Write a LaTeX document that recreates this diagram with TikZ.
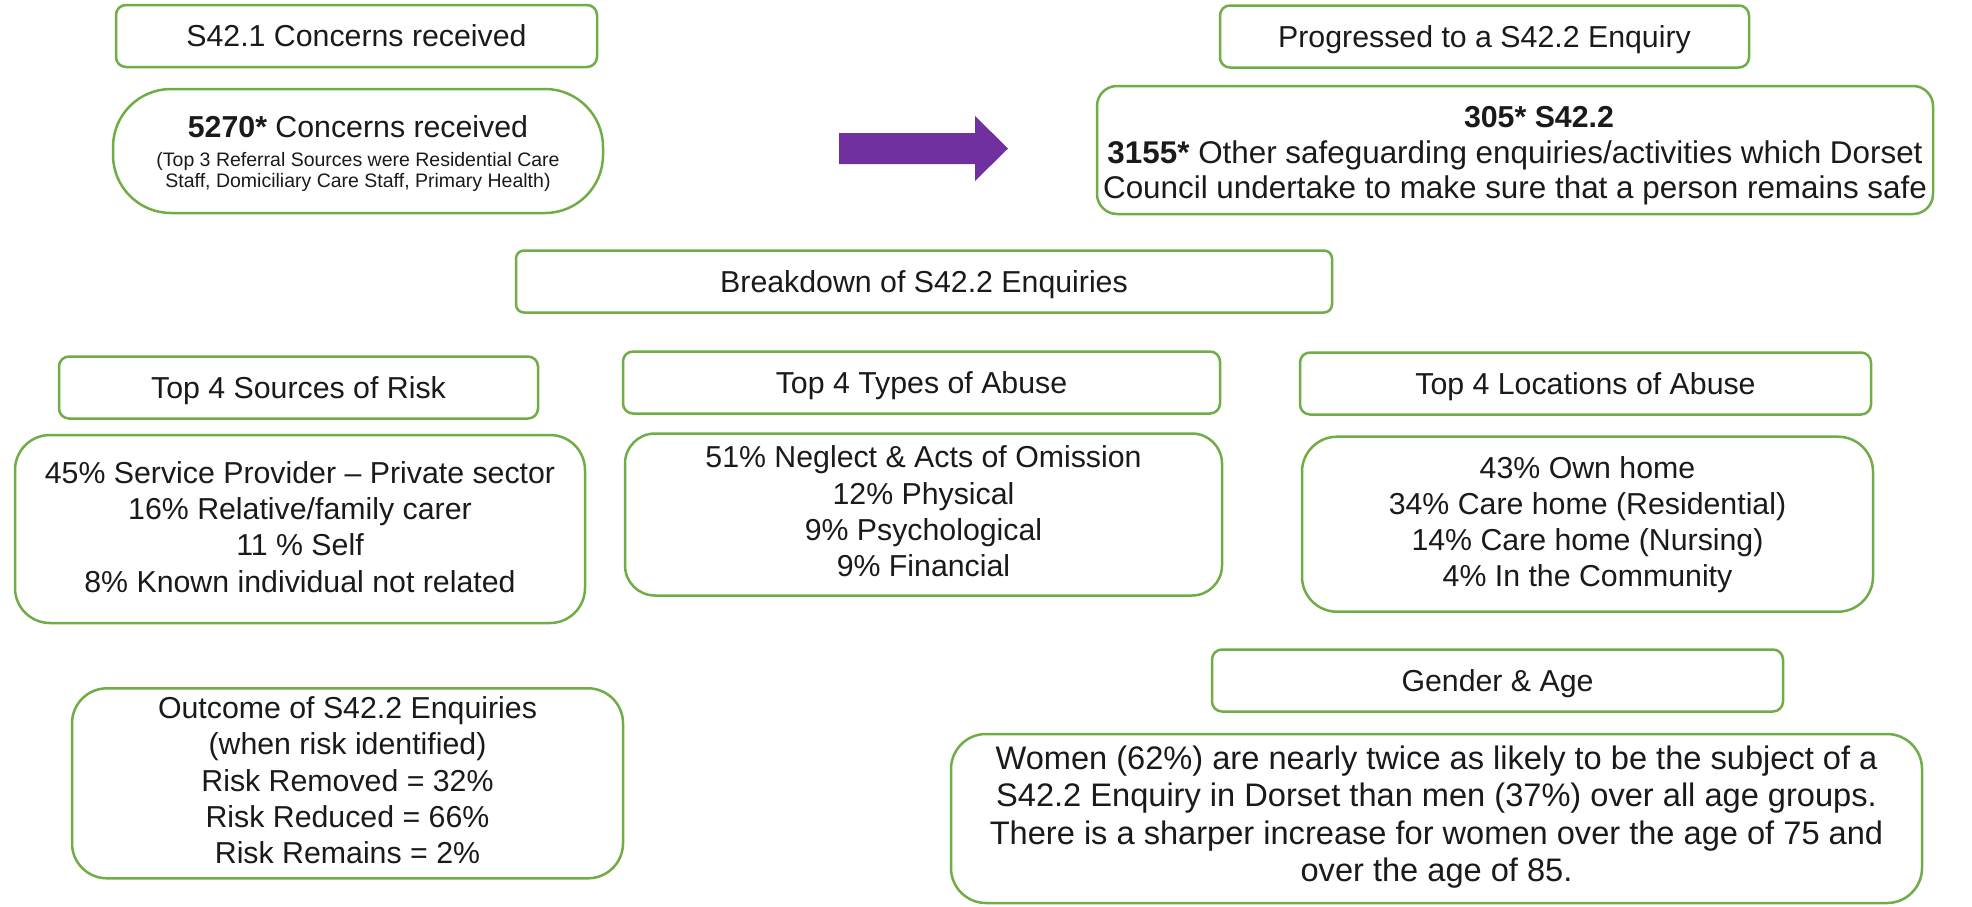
\documentclass[tikz,border=0pt]{standalone}
\usepackage{fontspec}
\setmainfont{Liberation Sans}
\definecolor{boxgreen}{HTML}{70AD47}
\definecolor{arrowpurple}{HTML}{7030A0}
\definecolor{txt}{HTML}{1A1A1A}
\newcommand{\smallfnt}{\fontsize{19.5}{21.7}\selectfont}
\newcommand{\topstrut}{\rule{0pt}{0.905em}}
\newcommand{\botstrut}{\rule[-0.212em]{0pt}{0.212em}}
\newcommand{\hgt}[1]{\rule{0pt}{#1}}
\newcommand{\dpt}[1]{\rule[-#1]{0pt}{0pt}}
\tikzset{
  gbox/.style={draw=boxgreen, line width=2.5pt, fill=white, align=center,
    text=txt, inner sep=0pt, font=\fontsize{30.3}{35.5}\selectfont,
    execute at begin node=\topstrut, execute at end node=\botstrut},
  hdr/.style={gbox, rounded corners=10pt, minimum height=62pt},
  body/.style={gbox, rounded corners=35pt, font=\fontsize{30.3}{36.2}\selectfont,
    execute at begin node={}, execute at end node={}},
}
\begin{document}
\begin{tikzpicture}[x=1pt,y=-1pt]
\useasboundingbox (0,0) rectangle (1972,906);

% top row
\node[hdr, minimum width=481pt] (a) at (356.5,36) {S42.1 Concerns received};
\node[gbox, rounded corners=58pt, minimum width=490pt, minimum height=124pt] (b) at (358,151)
  {\hgt{29.7pt}\textbf{5270*} Concerns received\\[-7pt]
   {\smallfnt\begin{tabular}[t]{@{}c@{}}(Top 3 Referral Sources were Residential Care\\
   Staff, Domiciliary Care Staff, Primary Health)\end{tabular}}};

\fill[arrowpurple] (839,133) -- (975,133) -- (975,116) -- (1008,148.5)
  -- (975,181) -- (975,164) -- (839,164) -- cycle;

\node[hdr, minimum width=529pt] (c) at (1484.5,36.5) {Progressed to a S42.2 Enquiry};
\node[gbox, rounded corners=20pt, minimum width=836pt, minimum height=128pt,
  font=\fontsize{31.4}{35.5}\selectfont] (d) at (1515,150)
  {\hgt{33.2pt}\hspace*{48pt}{\fontsize{30.3}{35.5}\selectfont\textbf{305* S42.2}}\\
   \textbf{3155*} Other safeguarding enquiries/activities which Dorset\\
   Council undertake to make sure that a person remains safe};

% breakdown
\node[hdr, rounded corners=8pt, minimum width=816pt] (e) at (924,281.5) {Breakdown of S42.2 Enquiries};

\node[hdr, minimum width=479pt] (f) at (298.5,387.5) {Top 4 Sources of Risk};
\node[body, minimum width=570pt, minimum height=188pt] (g) at (300,529)
  {\hgt{24pt}45\% Service Provider – Private sector\\
   16\% Relative/family carer\\
   11 \% Self\\
   8\% Known individual not related};

\node[hdr, minimum width=597pt] (h) at (921.5,382.5) {Top 4 Types of Abuse};
\node[body, rounded corners=30pt, minimum width=597pt, minimum height=162pt] (i) at (923.5,514.5)
  {51\% Neglect \& Acts of Omission\\
   12\% Physical\\
   9\% Psychological\\
   9\% Financial\dpt{2.4pt}};

\node[hdr, minimum width=571pt] (j) at (1585.5,383.5) {Top 4 Locations of Abuse};
\node[body, minimum width=571pt, minimum height=175pt] (k) at (1587.5,524.2)
  {\hgt{23.2pt}43\% Own home\\
   34\% Care home (Residential)\\
   14\% Care home (Nursing)\\
   4\% In the Community};

% bottom
\node[body, minimum width=551pt, minimum height=190pt] (l) at (347.5,783.3)
  {Outcome of S42.2 Enquiries\\
   (when risk identified)\\
   Risk Removed = 32\%\\
   Risk Reduced = 66\%\\
   Risk Remains = 2\%\dpt{3.8pt}};

\node[hdr, minimum width=571pt] (m) at (1497.5,680.5) {Gender \& Age};
\node[body, minimum width=971pt, minimum height=169pt,
  font=\fontsize{32.6}{37.5}\selectfont] (n) at (1436.5,818.5)
  {Women (62\%) are nearly twice as likely to be the subject of a\\
   S42.2 Enquiry in Dorset than men (37\%) over all age groups.\\
   There is a sharper increase for women over the age of 75 and\\
   over the age of 85.\dpt{9.8pt}};
\end{tikzpicture}
\end{document}
